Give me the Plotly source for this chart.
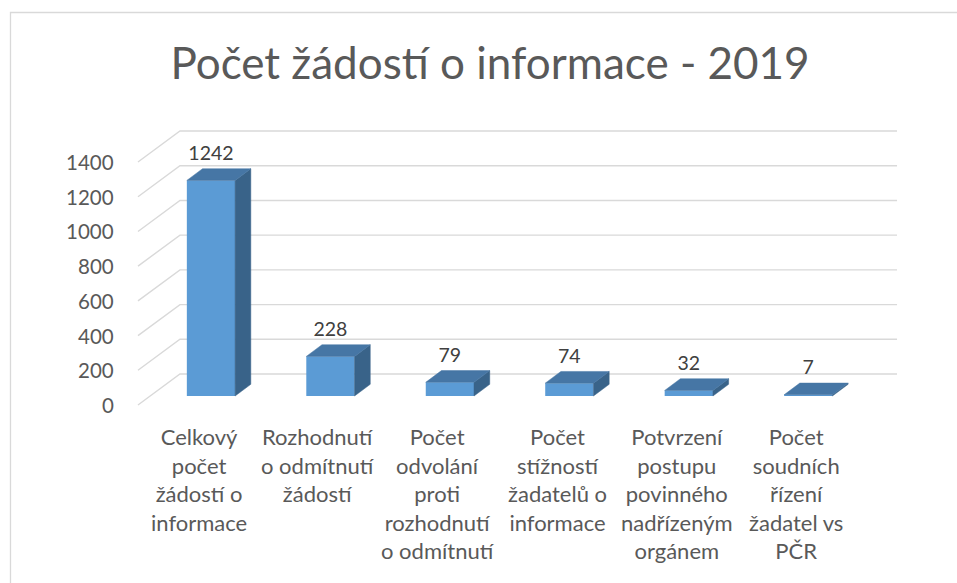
import plotly.graph_objects as go

# ---- data ----
categories = [
    "Celkový počet žádostí o informace",
    "Rozhodnutí o odmítnutí žádostí",
    "Počet odvolání proti rozhodnutí o odmítnutí",
    "Počet stížností žadatelů o informace",
    "Potvrzení postupu povinného nadřízeným orgánem",
    "Počet soudních řízení žadatel vs PČR",
]
category_labels = [
    "Celkový<br>počet<br>žádostí o<br>informace",
    "Rozhodnutí<br>o odmítnutí<br>žádostí",
    "Počet<br>odvolání<br>proti<br>rozhodnutí<br>o odmítnutí",
    "Počet<br>stížností<br>žadatelů o<br>informace",
    "Potvrzení<br>postupu<br>povinného<br>nadřízeným<br>orgánem",
    "Počet<br>soudních<br>řízení<br>žadatel vs<br>PČR",
]
values = [1242, 228, 79, 74, 32, 7]
y_ticks = [0, 200, 400, 600, 800, 1000, 1200, 1400]
title_text = "Počet žádostí o informace - 2019"

# ---- 3D projection parameters (in axis units) ----
BAR_W = 0.404                      # bar front width (category units)
BAR_DX, BAR_DY = 0.1314, 67.4      # bar depth offset
WALL_DY = 126.7                    # bar front plane -> back wall (value units)
FRONT_DX, FRONT_DY = -0.102, -51.9 # bar front plane -> floor front edge
WALL_X0, WALL_X1 = -0.2595, 5.743  # back wall horizontal extent
SIDE_X_FRONT = -0.611              # front end of side-wall gridlines

FRONT = "#5B9BD5"
TOP = "#4676A5"
SIDE = "#396389"
GRID = "#D9D9D9"
FONT = "Lato"

fig = go.Figure()
xs = list(range(len(values)))

shapes = []
# gridlines: back wall + side wall diagonals (drawn below traces)
for t in y_ticks:
    shapes.append(dict(type="path", xref="x", yref="y", layer="below",
                       path=f"M {SIDE_X_FRONT},{t + FRONT_DY} L {WALL_X0},{t + WALL_DY} L {WALL_X1},{t + WALL_DY}",
                       line=dict(color=GRID, width=1.4)))
# outer chart border
shapes.append(dict(type="rect", xref="paper", yref="paper",
                   x0=10.5 / 957, x1=1.02, y0=-0.02, y1=1 - 12.5 / 583,
                   line=dict(color=GRID, width=1.3), fillcolor="rgba(0,0,0,0)", layer="below"))

# front faces
fig.add_trace(go.Bar(x=xs, y=values, width=BAR_W, marker=dict(color=FRONT, line=dict(width=0)),
                     hoverinfo="skip", showlegend=False))

# side and top faces
for x, v in zip(xs, values):
    r = x + BAR_W / 2
    l = x - BAR_W / 2
    fig.add_trace(go.Scatter(
        x=[r, r, r + BAR_DX, r + BAR_DX, r],
        y=[0, v, v + BAR_DY, BAR_DY, 0],
        fill="toself", fillcolor=SIDE, mode="lines", line=dict(color=SIDE, width=0.5),
        hoverinfo="skip", showlegend=False))
    fig.add_trace(go.Scatter(
        x=[l, r, r + BAR_DX, l + BAR_DX, l],
        y=[v, v, v + BAR_DY, v + BAR_DY, v],
        fill="toself", fillcolor=TOP, mode="lines", line=dict(color=TOP, width=0.5),
        hoverinfo="skip", showlegend=False))

# data labels
fig.add_trace(go.Scatter(
    x=xs, y=[v + BAR_DY + 78 for v in values], text=[str(v) for v in values],
    mode="text", textposition="middle center",
    textfont=dict(family=FONT, size=19.5, color="#404040"),
    hoverinfo="skip", showlegend=False))

annotations = []
# y tick labels
for t in y_ticks:
    annotations.append(dict(x=-0.795, y=t + FRONT_DY, text=str(t), showarrow=False,
                            xanchor="right", yanchor="middle",
                            font=dict(family=FONT, size=20.5, color="#595959")))
# category labels
for x, lab in zip(xs, category_labels):
    annotations.append(dict(x=x + FRONT_DX, y=FRONT_DY, text=lab, showarrow=False,
                            xanchor="center", yanchor="top", yshift=-16, align="center",
                            font=dict(family=FONT, size=22, color="#595959")))

fig.update_layout(
    width=957, height=583,
    margin=dict(l=0, r=0, t=0, b=0),
    paper_bgcolor="white", plot_bgcolor="white",
    title=dict(text=title_text, x=490 / 957, xanchor="center",
               y=1 - 64 / 583, yanchor="middle", yref="container",
               font=dict(family=FONT, size=44, color="#595959")),
    xaxis=dict(range=[-1.766, 6.245], visible=False, fixedrange=True),
    yaxis=dict(range=[-1077.4, 2281.5], visible=False, fixedrange=True),
    annotations=annotations,
    shapes=shapes,
    showlegend=False,
    hovermode=False,
)

fig.write_html("out.html", config={"displayModeBar": False, "staticPlot": True},
               post_script="document.body.style.margin='0px';")
